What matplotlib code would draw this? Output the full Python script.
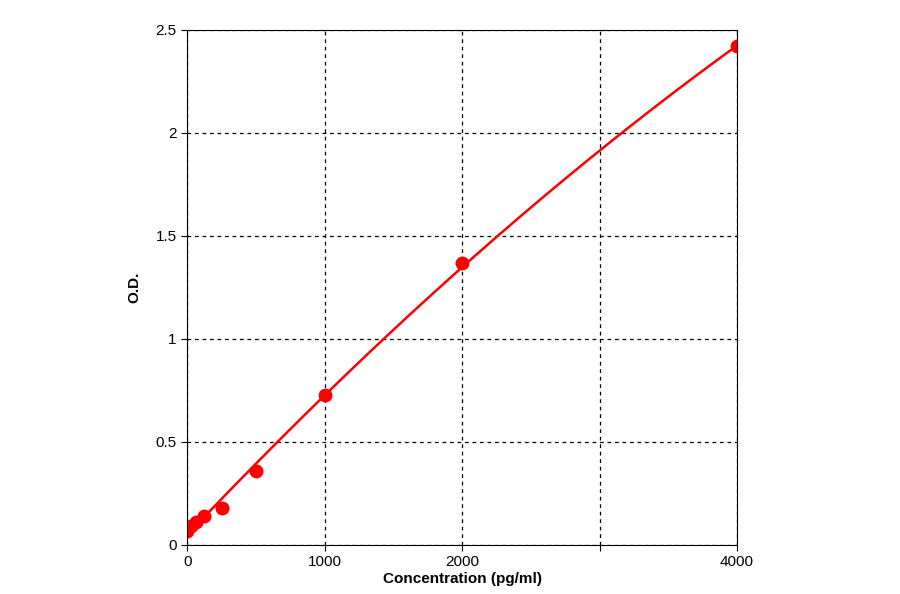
import numpy as np
import matplotlib
matplotlib.use("Agg")
import matplotlib.pyplot as plt

plt.rcParams["font.family"] = ["Liberation Sans", "DejaVu Sans"]

conc = [0, 31.25, 62.5, 125, 250, 500, 1000, 2000, 4000]
od = [0.07, 0.09, 0.11, 0.14, 0.18, 0.36, 0.73, 1.37, 2.42]

# smooth standard curve through the points
coef = np.polyfit(conc, od, 2)
xs = np.linspace(0, 4000, 300)
ys = np.polyval(coef, xs)

fig = plt.figure(figsize=(9, 5.94), dpi=100)
ax = fig.add_axes([0.208, 0.0825, 0.611, 0.867])
ax.plot(xs, ys, color="red", linewidth=1.8)
ax.plot(conc, od, "o", color="red", markersize=9, markeredgecolor="red")
ax.set_xlim(0, 4000)
ax.set_ylim(0, 2.5)
ax.set_xticks([0, 1000, 2000, 3000, 4000])
ax.set_xticklabels(["0", "1000", "2000", "", "4000"])
ax.set_yticks([0, 0.5, 1, 1.5, 2, 2.5])
ax.set_yticklabels(["0", "0.5", "1", "1.5", "2", "2.5"])
ax.grid(color="black", linestyle=(0, (3, 3)), linewidth=0.9)
ax.tick_params(labelsize=11, length=4)
ax.set_xlabel("Concentration (pg/ml)", fontsize=11, fontweight="bold", labelpad=2)
ax.set_ylabel("O.D.", fontsize=11, fontweight="bold", labelpad=10)
fig.savefig("out.png", dpi=100)
